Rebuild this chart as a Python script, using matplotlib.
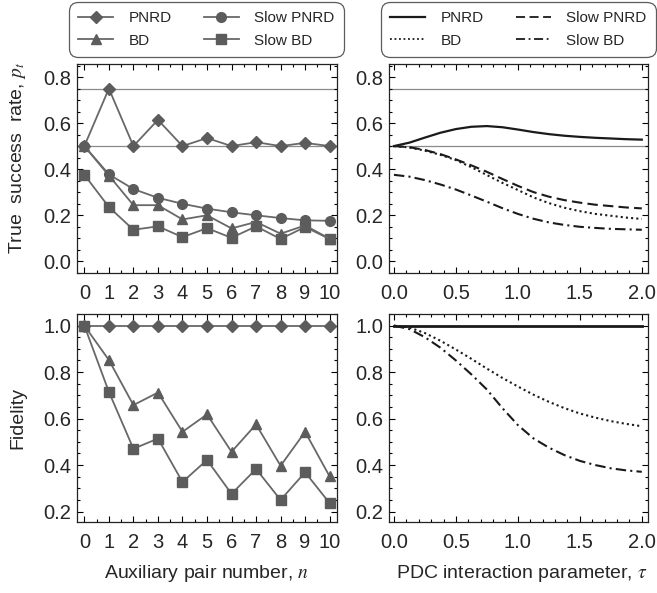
import numpy as np
import matplotlib
matplotlib.use("Agg")
import matplotlib.pyplot as plt
from matplotlib.ticker import MultipleLocator, FormatStrFormatter
from matplotlib.lines import Line2D

plt.rcParams['font.family'] = ['Liberation Sans', 'DejaVu Sans']
plt.rcParams['mathtext.fontset'] = 'stix'

# ---- data ----
n = np.arange(11)

# true success rate vs auxiliary pair number
pt_pnrd = [0.5, 0.75, 0.5, 0.614, 0.5, 0.535, 0.5, 0.517, 0.5, 0.514, 0.5]
pt_slow_pnrd = [0.5, 0.377, 0.313, 0.275, 0.249, 0.228, 0.212, 0.199, 0.187, 0.177, 0.175]
pt_bd = [0.5, 0.372, 0.243, 0.243, 0.181, 0.199, 0.142, 0.170, 0.119, 0.155, 0.097]
pt_slow_bd = [0.375, 0.235, 0.136, 0.151, 0.104, 0.143, 0.101, 0.151, 0.096, 0.148, 0.096]

# fidelity vs auxiliary pair number
f_pnrd = [1.0] * 11
f_bd = [1.0, 0.852, 0.658, 0.712, 0.543, 0.618, 0.457, 0.575, 0.397, 0.543, 0.351]
f_slow_bd = [1.0, 0.715, 0.470, 0.514, 0.327, 0.422, 0.276, 0.383, 0.250, 0.369, 0.236]

# PDC interaction parameter tau
tau = np.arange(0, 2.0001, 0.125)
tpt_pnrd = [0.500, 0.515, 0.537, 0.558, 0.574, 0.584, 0.587, 0.582, 0.572,
            0.561, 0.552, 0.545, 0.540, 0.536, 0.533, 0.530, 0.528]
tpt_slow_pnrd = [0.500, 0.495, 0.483, 0.465, 0.442, 0.416, 0.388, 0.357, 0.327,
                 0.300, 0.280, 0.265, 0.254, 0.245, 0.239, 0.233, 0.229]
tpt_bd = [0.500, 0.494, 0.480, 0.462, 0.439, 0.408, 0.374, 0.340, 0.309,
          0.277, 0.252, 0.232, 0.217, 0.205, 0.197, 0.189, 0.183]
tpt_slow_bd = [0.375, 0.367, 0.352, 0.333, 0.311, 0.285, 0.258, 0.230, 0.205,
               0.184, 0.168, 0.157, 0.149, 0.144, 0.140, 0.138, 0.136]

tf_pnrd = [1.0] * len(tau)
tf_bd = [1.000, 0.992, 0.968, 0.935, 0.897, 0.857, 0.815, 0.775, 0.738,
         0.703, 0.672, 0.645, 0.622, 0.604, 0.589, 0.577, 0.567]
tf_slow_bd = [1.000, 0.985, 0.950, 0.905, 0.850, 0.790, 0.725, 0.645, 0.572,
              0.515, 0.475, 0.443, 0.418, 0.400, 0.386, 0.377, 0.371]

ref_lines = [0.75, 0.5]

W, H = 657, 593
fig = plt.figure(figsize=(W / 100, H / 100), dpi=100)


def box(l, t, r, b):
    return [l / W, 1 - b / H, (r - l) / W, (b - t) / H]


ax_tl = fig.add_axes(box(77, 64, 337, 273))
ax_tr = fig.add_axes(box(389, 64, 648, 273))
ax_bl = fig.add_axes(box(77, 314, 337, 522))
ax_br = fig.add_axes(box(389, 314, 648, 522))

gray = '#686868'
mk = dict(color=gray, lw=1.3, markersize=7, markeredgecolor='#5c5c5c', markerfacecolor='#5c5c5c')
dark = '#1a1a1a'

# top left
ax_tl.plot(n, pt_slow_bd, marker='s', **mk)
ax_tl.plot(n, pt_bd, marker='^', **mk)
ax_tl.plot(n, pt_slow_pnrd, marker='o', **mk)
ax_tl.plot(n, pt_pnrd, marker='D', **dict(mk, markersize=6))

# bottom left
ax_bl.plot(n, f_slow_bd, marker='s', **mk)
ax_bl.plot(n, f_bd, marker='^', **mk)
ax_bl.plot(n, f_pnrd, marker='D', **dict(mk, markersize=6))

# top right
ax_tr.plot(tau, tpt_pnrd, color=dark, lw=1.6, ls='-')
ax_tr.plot(tau, tpt_slow_pnrd, color=dark, lw=1.5, ls=(0, (5, 2.5)))
ax_tr.plot(tau, tpt_bd, color=dark, lw=1.5, ls=(0, (1, 1.5)))
ax_tr.plot(tau, tpt_slow_bd, color=dark, lw=1.5, ls=(0, (5, 2, 1, 2)))

# bottom right
ax_br.plot(tau, tf_bd, color=dark, lw=1.5, ls=(0, (1, 1.5)))
ax_br.plot(tau, tf_slow_bd, color=dark, lw=1.5, ls=(0, (5, 2, 1, 2)))
ax_br.plot(tau, tf_pnrd, color=dark, lw=2.0, ls='-')

for ax in (ax_tl, ax_tr):
    for yv in ref_lines:
        ax.axhline(yv, color='#8a8a8a', lw=0.9, zorder=0)
    ax.set_ylim(-0.052, 0.857)

for ax in (ax_bl, ax_br):
    ax.set_ylim(0.155, 1.05)

for ax in (ax_tl, ax_bl):
    ax.set_xlim(-0.3, 10.3)
    ax.xaxis.set_major_locator(MultipleLocator(1))
    ax.xaxis.set_minor_locator(MultipleLocator(0.5))

for ax in (ax_tr, ax_br):
    ax.set_xlim(-0.04, 2.05)
    ax.xaxis.set_major_locator(MultipleLocator(0.5))
    ax.xaxis.set_minor_locator(MultipleLocator(0.1))
    ax.xaxis.set_major_formatter(FormatStrFormatter('%.1f'))

for ax in (ax_tl, ax_tr, ax_bl, ax_br):
    ax.yaxis.set_major_locator(MultipleLocator(0.2))
    ax.yaxis.set_minor_locator(MultipleLocator(0.05))
    ax.yaxis.set_major_formatter(FormatStrFormatter('%.1f'))
    ax.tick_params(which='both', direction='in', top=True, right=True,
                   labelsize=14.5, labelcolor='#262626', width=0.8)
    ax.tick_params(axis='x', pad=8)
    ax.tick_params(axis='y', pad=4)
    ax.tick_params(which='major', length=4.5)
    ax.tick_params(which='minor', length=2.5)
    for s in ax.spines.values():
        s.set_linewidth(0.9)
        s.set_color('#222222')

lab = dict(fontsize=14, color='#262626')
fig.text(18 / W, 1 - 158 / H, 'True  success  rate, $p_t$', rotation=90, ha='center', va='center', **lab)
fig.text(18 / W, 1 - 418 / H, 'Fidelity', rotation=90, ha='center', va='center', **lab)
fig.text(207 / W, 1 - 574 / H, 'Auxiliary pair number, $n$', ha='center', va='center', **lab)
fig.text(522 / W, 1 - 574 / H, 'PDC interaction parameter, $\\tau$', ha='center', va='center', **lab)

# legends
mh = dict(color=gray, lw=1.3, markersize=7, markeredgecolor='#5c5c5c', markerfacecolor='#5c5c5c')
h_left = [Line2D([], [], marker='D', **dict(mh, markersize=6)),
          Line2D([], [], marker='^', **mh),
          Line2D([], [], marker='o', **mh),
          Line2D([], [], marker='s', **mh)]
h_right = [Line2D([], [], color=dark, lw=1.6),
           Line2D([], [], color=dark, lw=1.3, ls=(0, (1, 1.5))),
           Line2D([], [], color=dark, lw=1.3, ls=(0, (5, 2.5))),
           Line2D([], [], color=dark, lw=1.3, ls=(0, (5, 2, 1, 2)))]
names = ['PNRD', 'BD', 'Slow PNRD', 'Slow BD']

leg_kw = dict(ncol=2, loc='upper left', fontsize=11, frameon=True, fancybox=True,
              handlelength=2.3, handletextpad=1.0, labelspacing=0.55, borderpad=0.4,
              columnspacing=2.1, edgecolor='#333333', borderaxespad=0)
lg1 = fig.legend(h_left, names, bbox_to_anchor=(72 / W, 1 - 5 / H), **leg_kw)
lg2 = fig.legend(h_right, names, bbox_to_anchor=(384 / W, 1 - 5 / H), **leg_kw)
for lg in (lg1, lg2):
    lg.get_frame().set_linewidth(0.9)
    lg.get_frame().set_boxstyle('round,pad=0.2,rounding_size=0.6')
    for t in lg.get_texts():
        t.set_color('#262626')

fig.savefig('out.png', dpi=100)
